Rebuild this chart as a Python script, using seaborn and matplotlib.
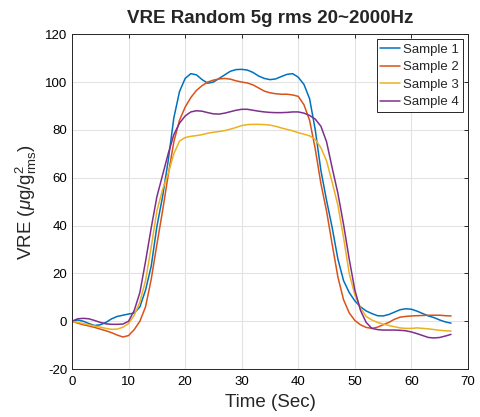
import numpy as np
import pandas as pd
import matplotlib
matplotlib.use("Agg")
import matplotlib.pyplot as plt
import seaborn as sns

# --- datos ---
time_s = list(range(0, 68))

sample_1 = [0, 0.5, 0, -1, -1.8, -1.5, -0.5, 1, 2, 2.5,
            3, 3.4, 6, 13, 23, 39.5, 52, 67, 85, 96,
            101.5, 103.5, 103, 101, 99.5, 100, 101.5, 103, 104.5, 105.2,
            105.3, 105, 104, 102.5, 101.5, 101, 101.3, 102.3, 103.2, 103.5,
            102, 99, 93, 80, 63, 50.5, 39, 26, 17, 12,
            8.5, 6, 4.3, 3.2, 2.3, 2.2, 2.8, 3.8, 4.8, 5.2,
            5, 4.2, 3.2, 2.2, 1.5, 0.5, -0.3, -0.8]

sample_2 = [0, -0.8, -1.5, -2, -2.6, -3.3, -4, -4.8, -5.8, -6.6,
            -6, -3.5, 0, 6, 17.5, 32, 46, 61, 75, 84,
            89.5, 93.5, 96.5, 98.5, 100, 100.8, 101.3, 101.5, 101.2, 100.5,
            100, 99.6, 98.8, 97.5, 96.2, 95.5, 95.1, 94.9, 94.9, 94.6,
            94, 90.5, 84, 72, 57.5, 46, 32, 18.5, 9, 3.5,
            0.3, -1.5, -2.6, -3, -2.5, -1.5, -0.5, 0.8, 1.7, 2,
            2.2, 2.3, 2.4, 2.5, 2.5, 2.5, 2.3, 2.2]

sample_3 = [0, -0.5, -1, -1.5, -2, -2.5, -3, -3.4, -3.3, -2.5,
            -1, 2.5, 8, 17, 31, 46, 55, 61.7, 70, 75.3,
            76.8, 77.3, 77.6, 78, 78.6, 79, 79.3, 79.7, 80.3, 81,
            81.8, 82.2, 82.3, 82.3, 82.2, 82, 81.5, 80.8, 80.2, 79.6,
            78.8, 78.2, 77.5, 76, 72.5, 67, 58, 48.5, 35, 20,
            11, 5.5, 2, 0.5, -0.5, -1.2, -1.8, -2.3, -2.8, -3,
            -3, -2.8, -3, -3.2, -3.5, -3.8, -4, -4.1]

sample_4 = [0, 1, 1.2, 1, 0.3, -0.5, -1.1, -1.3, -1.3, -1.2,
            0, 4.5, 12, 25, 39, 52, 61, 70, 78, 82.8,
            85.8, 87.5, 88, 87.8, 87.2, 86.7, 86.6, 87, 87.6, 88.2,
            88.6, 88.6, 88.2, 87.8, 87.5, 87.3, 87.2, 87.2, 87.3, 87.5,
            87.5, 87, 86, 84.5, 81.5, 75, 64, 53.5, 40.5, 26,
            13, 4.5, -0.5, -3, -3.5, -3.7, -3.7, -3.7, -3.8, -4,
            -4.5, -5.2, -6, -6.8, -7, -6.8, -6.2, -5.5]

labels = ["Sample 1", "Sample 2", "Sample 3", "Sample 4"]
x_ticks = [0, 10, 20, 30, 40, 50, 60, 70]
y_ticks = [-20, 0, 20, 40, 60, 80, 100, 120]

df = pd.DataFrame({
    "time": time_s * 4,
    "vre": sample_1 + sample_2 + sample_3 + sample_4,
    "sample": [lab for lab in labels for _ in time_s],
})

# --- estilo tipo MATLAB ---
sns.set_style("white")
plt.rcParams["font.family"] = ["Liberation Sans", "DejaVu Sans"]
plt.rcParams["mathtext.fontset"] = "custom"
plt.rcParams["mathtext.rm"] = "Liberation Sans"
plt.rcParams["mathtext.it"] = "Liberation Sans:italic"
plt.rcParams["axes.unicode_minus"] = False

palette = ["#0072BD", "#D95319", "#EDB120", "#7E2F8E"]

fig = plt.figure(figsize=(4.8, 4.17), dpi=100)
ax = fig.add_axes([0.15, 0.115, 0.825, 0.803])

sns.lineplot(data=df, x="time", y="vre", hue="sample", palette=palette,
             linewidth=1.1, ax=ax)

ax.set_xlim(0, 70)
ax.set_ylim(-20, 120)
ax.set_xticks(x_ticks)
ax.set_yticks(y_ticks)
ax.grid(True, color="#e3e3e3", linewidth=0.8)
ax.set_axisbelow(True)
for sp in ax.spines.values():
    sp.set_visible(True)
    sp.set_color("#262626")
    sp.set_linewidth(0.7)
ax.tick_params(direction="in", length=3, width=0.7, labelsize=9.5,
               colors="#262626", labelcolor="black",
               top=True, right=True)
ax.tick_params(axis="x", pad=5)

ax.set_title("VRE Random 5g rms 20~2000Hz", fontsize=13.5, fontweight="bold", pad=8)
ax.set_xlabel("Time (Sec)", fontsize=13.5, labelpad=4)
ax.set_ylabel(r"VRE ($\mu$g/g$^2_{\mathrm{rms}}$)", fontsize=13.5, labelpad=4)

ax.legend(loc="upper right", fontsize=9.5, handlelength=1.5, handletextpad=0.2,
          labelspacing=0.4, borderpad=0.3, borderaxespad=0.4,
          fancybox=False, edgecolor="#262626", framealpha=1, title=None)
ax.get_legend().get_frame().set_linewidth(0.7)

fig.savefig("out.png", dpi=100)
